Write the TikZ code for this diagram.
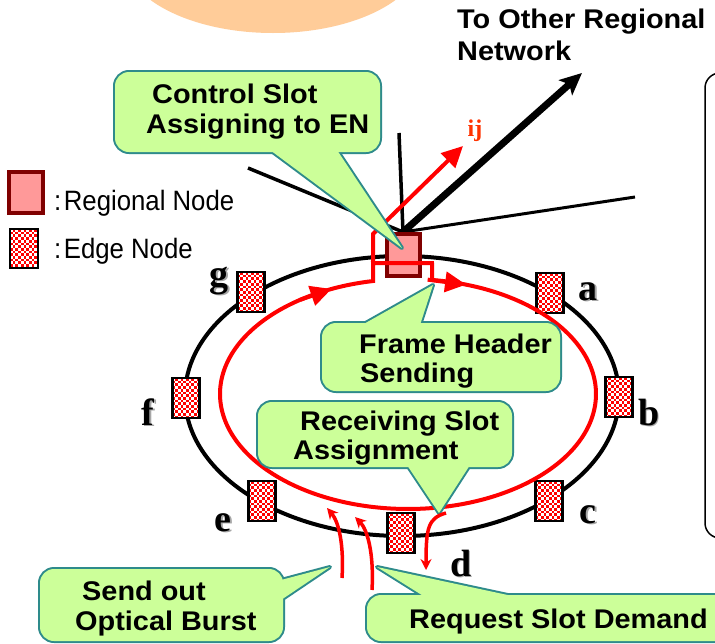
\documentclass[tikz,border=0pt]{standalone}
\usepackage{fontspec}
\setmainfont{Liberation Sans}
\newfontfamily\calloutfont[FakeStretch=1.07]{Liberation Sans}
\newfontfamily\letterfont{Liberation Serif}
\newfontfamily\legendfont[FakeStretch=0.92]{Liberation Sans}
\usetikzlibrary{arrows.meta,calc}
\definecolor{calloutfill}{HTML}{CCFF99}
\definecolor{calloutedge}{HTML}{2E8B8B}
\definecolor{orangeblob}{HTML}{FFCC99}
\definecolor{regfill}{HTML}{FF9999}
\definecolor{regedge}{HTML}{800000}
\definecolor{ijred}{HTML}{FF3300}
\pgfdeclarelayer{bg}
\pgfsetlayers{bg,main}
\newcommand\shadowtext[1]{\makebox[0pt][l]{\kern1.5pt\raisebox{-1.5pt}{\color{black!35}#1}}#1}
\newcommand\mycallout[2]{%
  \draw[calloutedge, line width=4pt, rounded corners=14pt] #1;
  \draw[calloutedge, line width=4pt, line join=round] #2;
  \fill[calloutfill, rounded corners=14pt] #1;
  \fill[calloutfill] #2;}
\tikzset{
  edgenode/.style={rectangle, draw=black, line width=2.5pt, fill=white,
    minimum width=27pt, minimum height=40pt, inner sep=0pt,
    path picture={
      \foreach \i in {0,...,11}{\foreach \j in {0,...,16}{
        \ifodd\numexpr\i+\j\relax
          \fill[red] ($(path picture bounding box.north west)+(\i*2.7,\j*2.7)$) rectangle +(2.7,2.7);
        \fi}}}},
  regnode/.style={rectangle, draw=regedge, fill=regfill, line width=4pt,
    minimum width=33pt, minimum height=42pt, inner sep=0pt},
  calltext/.style={font=\calloutfont\bfseries\fontsize{27}{27}\selectfont, inner sep=0pt, anchor=base west},
  lettertext/.style={font=\letterfont\bfseries\fontsize{38}{38}\selectfont, inner sep=0pt, anchor=base},
  legtext/.style={font=\legendfont\fontsize{28}{28}\selectfont, inner sep=0pt, anchor=base west},
  redline/.style={red, line width=4pt},
  bighead/.style={-{Triangle[length=21pt,width=20pt]}},
  smallarrow/.style={red, line width=3.5pt, -{Stealth[length=11pt,width=11pt]}},
  blackline/.style={black, line width=3.5pt},
}
\begin{document}
\begin{tikzpicture}[x=1pt,y=-1pt]
\clip (0,0) rectangle (715,643);

% nodes
\node[regnode] (R) at (403,255) {};
\node[edgenode] (a) at (550,293) {};
\node[edgenode] (b) at (619,397) {};
\node[edgenode] (c) at (549,501) {};
\node[edgenode] (d) at (401,533) {};
\node[edgenode] (e) at (262,501) {};
\node[edgenode] (f) at (186,398) {};
\node[edgenode] (g) at (251,292) {};

% legend
\node[regnode, minimum width=34pt, minimum height=41pt] (legR) at (26,192.5) {};
\node[edgenode, minimum width=28pt, minimum height=39pt] (legE) at (24,248.5) {};
\node[legtext] (legRt) at (54,210) {:\hspace{2.5pt}Regional Node};
\node[legtext] (legEt) at (54,258) {:\hspace{2.5pt}Edge Node};

% background drawing
\begin{pgfonlayer}{bg}
  \fill[white] (0,0) rectangle (715,643);
  \fill[orangeblob] (273,-45) ellipse [x radius=150, y radius=78];
  \draw[line width=1.5pt, rounded corners=15pt] (705,73) rectangle (770,538);
  \draw[line width=4pt] (402,396) ellipse [x radius=217, y radius=140];
  \coordinate (up) at (399,133);
  \coordinate (ul) at (248,168);
  \coordinate (rt) at (635,197);
  \coordinate (far) at (582,73);
  \draw[blackline] (ul) -- (R.north);
  \draw[blackline] (up) -- (R.north);
  \draw[blackline, line width=3pt] (rt) -- (R.north);
  \draw[black, line width=7pt, -{Stealth[length=22pt,width=20pt,inset=5pt]}] (R.north) -- (far);
\end{pgfonlayer}

% red loop around the ring
\draw[redline] plot[domain=-82.6:259.3, samples=140, smooth]
   ({408+188*cos(\x)},{394+115*sin(\x)}) -- (373,263) -- (432,263) -- cycle;
\coordinate (rj) at (373,263);
\coordinate (rbend) at (373,234);
\coordinate (ijtip) at (463,146);
\draw[redline, bighead] (rj) -- (rbend) -- (ijtip);
\coordinate (la1) at ({408+188*cos(235)},{394+115*sin(235)});
\coordinate (la2) at ({408+188*cos(246)},{394+115*sin(246)});
\coordinate (ra1) at ({408+188*cos(-84)},{394+115*sin(-84)});
\coordinate (ra2) at ({408+188*cos(-72)},{394+115*sin(-72)});
\draw[redline, bighead] (la1) -- (la2);
\draw[redline, bighead] (ra1) -- (ra2);
\node[lettertext, text=ijred, font=\letterfont\bfseries\fontsize{24}{24}\selectfont] (ij) at (475,136) {ij};

% node letters
\node[lettertext] (la) at (588,300) {\shadowtext{a}};
\node[lettertext] (lb) at (649,425) {\shadowtext{b}};
\node[lettertext] (lc) at (588,523) {\shadowtext{c}};
\node[lettertext] (ld) at (461,576) {\shadowtext{d}};
\node[lettertext] (le) at (223,531) {\shadowtext{e}};
\node[lettertext] (lf) at (148,425) {\shadowtext{f}};
\node[lettertext] (lg) at (219,286) {\shadowtext{g}};

% title text
\node[calltext] (t1) at (457,28) {To Other Regional};
\node[calltext] (t2) at (457,60) {Network};

% callouts
\mycallout{(115,72) rectangle (380,152)}{(270,150) -- (402,248) -- (337,150) -- cycle}
\node[calltext] (cs1) at (152,103) {Control Slot};
\node[calltext] (cs2) at (146,133) {Assigning to EN};

\mycallout{(322,323) rectangle (560,391)}{(362,325) -- (433,285) -- (420,325) -- cycle}
\node[calltext] (fh1) at (359,353) {Frame Header};
\node[calltext] (fh2) at (360,382) {Sending};

\mycallout{(258,402) rectangle (512,467)}{(407,465) -- (439,513) -- (470,465) -- cycle}
\node[calltext] (rs1) at (300,430) {Receiving Slot};
\node[calltext] (rs2) at (293,459) {Assignment};

\mycallout{(40,569) rectangle (283,641)}{(281,580) -- (330,567) -- (281,600) -- cycle}
\node[calltext] (so1) at (82,600) {Send out};
\node[calltext] (so2) at (75,630) {Optical Burst};

\mycallout{(367,595) rectangle (770,641)}{(425,597) -- (377,567) -- (517,597) -- cycle}
\node[calltext] (rq) at (409,628) {Request Slot Demand};

% small red arrows
\coordinate (s1) at (342,578); \coordinate (t1a) at (327,508);
\draw[smallarrow] (s1) .. controls (344,545) and (339,522) .. (t1a);
\coordinate (s2) at (372,590); \coordinate (t2a) at (355,517);
\draw[smallarrow] (s2) .. controls (374,555) and (368,530) .. (t2a);
\coordinate (s3) at (446,513); \coordinate (t3a) at (426,570);
\draw[smallarrow] (s3) .. controls (428,518) and (426,528) .. (t3a);
\end{tikzpicture}
\end{document}
